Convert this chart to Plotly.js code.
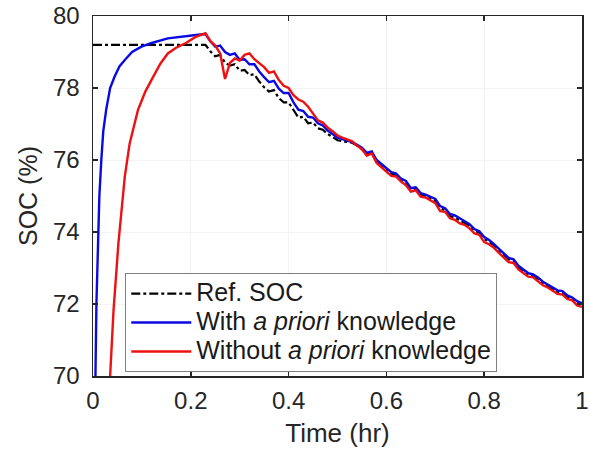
<!DOCTYPE html>
<html>
<head>
<meta charset="utf-8">
<script src="https://cdn.plot.ly/plotly-3.0.1.min.js"></script>
<style>html,body{margin:0;padding:0;background:#fff;}#chart{width:590px;height:454px;}</style>
</head>
<body>
<div id="chart"></div>
<script>
// ---- data ----
const refStartT = [0.0];
const refStartSOC = [79.2];

const blueStartT = [0.003, 0.005, 0.007, 0.010, 0.013, 0.017, 0.021, 0.027, 0.035, 0.044, 0.054, 0.065, 0.080, 0.099, 0.120, 0.153, 0.190, 0.215];
const blueStartSOC = [69.0, 70.0, 72.0, 73.7, 75.0, 76.0, 76.8, 77.4, 78.0, 78.31, 78.6, 78.78, 79.0, 79.15, 79.25, 79.38, 79.45, 79.48];

const redStartT = [0.033, 0.035, 0.042, 0.052, 0.065, 0.075, 0.092, 0.107, 0.123, 0.138, 0.153, 0.170, 0.190, 0.210];
const redStartSOC = [69.3, 70.0, 71.83, 73.69, 75.54, 76.46, 77.39, 77.9, 78.31, 78.68, 78.96, 79.12, 79.25, 79.42];

const tDec = [0.23,0.24,0.25,0.26,0.27,0.28,0.29,0.30,0.31,0.32,0.33,0.34,0.35,0.36,0.37,0.38,0.39,0.40,0.41,0.42,0.43,0.44,0.45,0.46,0.47,0.48,0.49,0.50,0.51,0.52,0.53,0.54,0.55,0.56,0.57,0.58,0.59,0.60,0.61,0.62,0.63,0.64,0.65,0.66,0.67,0.68,0.69,0.70,0.71,0.72,0.73,0.74,0.75,0.76,0.77,0.78,0.79,0.80,0.81,0.82,0.83,0.84,0.85,0.86,0.87,0.88,0.89,0.90,0.91,0.92,0.93,0.94,0.95,0.96,0.97,0.98,0.99,1.00];

const refDecSOC = [79.20,79.02,78.88,78.92,78.70,78.62,78.66,78.48,78.50,78.36,78.38,78.18,78.02,77.90,77.94,77.72,77.60,77.60,77.38,77.18,77.20,77.02,77.04,76.88,76.84,76.72,76.64,76.55,76.52,76.50,76.48,76.40,76.30,76.16,76.20,75.96,75.84,75.74,75.62,75.58,75.44,75.38,75.18,75.20,75.04,75.00,74.94,74.86,74.66,74.60,74.44,74.40,74.32,74.26,74.18,74.04,73.98,73.80,73.74,73.62,73.50,73.38,73.24,73.20,73.02,72.92,72.82,72.78,72.70,72.58,72.50,72.44,72.34,72.32,72.20,72.14,72.06,72.00];

const blueDecSOC = [79.50,79.30,79.15,79.18,79.00,78.92,78.96,78.78,78.80,78.66,78.66,78.46,78.30,78.16,78.20,77.98,77.86,77.86,77.60,77.40,77.36,77.20,77.18,77.02,76.96,76.82,76.72,76.62,76.58,76.54,76.50,76.42,76.34,76.20,76.24,76.00,75.88,75.78,75.66,75.62,75.48,75.42,75.22,75.24,75.08,75.04,74.98,74.92,74.72,74.66,74.50,74.46,74.38,74.30,74.22,74.08,74.02,73.86,73.78,73.66,73.54,73.42,73.28,73.24,73.06,72.96,72.86,72.82,72.74,72.62,72.54,72.48,72.38,72.36,72.24,72.18,72.08,72.02];

const redDecSOC = [79.52,79.30,79.18,78.96,78.25,78.70,78.82,78.76,78.92,78.96,78.80,78.70,78.58,78.42,78.46,78.22,78.06,78.00,77.80,77.68,77.62,77.48,77.30,77.10,77.04,76.90,76.80,76.68,76.62,76.56,76.52,76.40,76.30,76.12,76.18,75.92,75.80,75.70,75.56,75.54,75.40,75.30,75.12,75.16,74.98,74.96,74.88,74.80,74.58,74.56,74.38,74.34,74.24,74.20,74.10,73.96,73.92,73.72,73.66,73.56,73.42,73.30,73.16,73.14,72.96,72.86,72.76,72.74,72.64,72.52,72.46,72.38,72.28,72.26,72.14,72.10,71.96,71.92];

const xTickVals = [0, 0.2, 0.4, 0.6, 0.8, 1];
const xTickText = ['0', '0.2', '0.4', '0.6', '0.8', '1'];
const yTickVals = [70, 72, 74, 76, 78, 80];
const yTickText = ['70', '72', '74', '76', '78', '80'];

const seriesNames = ['Ref. SOC', 'With <i>a priori</i> knowledge', 'Without <i>a priori</i> knowledge'];
const big = s => '<span style="font-size:25px">' + s + '</span>';

// ---- traces ----
const traces = [
  {x: refStartT.concat(tDec), y: refStartSOC.concat(refDecSOC), name: big(seriesNames[0]), mode: 'lines',
   line: {color: '#000000', width: 2.2, dash: 'dashdot'}},
  {x: blueStartT.concat(tDec), y: blueStartSOC.concat(blueDecSOC), name: big(seriesNames[1]), mode: 'lines',
   line: {color: '#0a0ae0', width: 2.4}},
  {x: redStartT.concat(tDec), y: redStartSOC.concat(redDecSOC), name: big(seriesNames[2]), mode: 'lines',
   line: {color: '#ee1111', width: 2.4}}
];

const fontFam = '"Liberation Sans", Arial, sans-serif';
const layout = {
  width: 590, height: 454,
  margin: {l: 93, r: 8, t: 16, b: 78},
  paper_bgcolor: '#ffffff', plot_bgcolor: '#ffffff',
  font: {family: fontFam, size: 21, color: '#262626'},
  showlegend: true,
  legend: {x: 0.066, y: 0.286, xanchor: 'left', yanchor: 'top',
    bgcolor: '#ffffff', bordercolor: '#808080', borderwidth: 1,
    font: {family: fontFam, size: 20, color: '#1a1a1a'}, itemwidth: 60, tracegroupgap: 0},
  xaxis: {range: [0, 1], tickvals: xTickVals, ticktext: xTickText,
    ticks: 'inside', ticklen: 5, tickwidth: 1.5, tickcolor: '#262626',
    showline: true, linecolor: '#262626', linewidth: 1.5, mirror: 'ticks',
    showgrid: true, gridcolor: '#f3f3f3', gridwidth: 1, zeroline: false,
    tickfont: {size: 24}, ticklabelstandoff: 3,
    title: {text: 'Time (hr)', font: {size: 26}, standoff: 10}},
  yaxis: {range: [70, 80], tickvals: yTickVals, ticktext: yTickText,
    ticks: 'inside', ticklen: 5, tickwidth: 1.5, tickcolor: '#262626',
    showline: true, linecolor: '#262626', linewidth: 1.5, mirror: 'ticks',
    showgrid: true, gridcolor: '#f3f3f3', gridwidth: 1, zeroline: false,
    tickfont: {size: 24}, ticklabelstandoff: 7,
    title: {text: 'SOC (%)', font: {size: 25}, standoff: 8}}
};

Plotly.newPlot('chart', traces, layout, {displayModeBar: false, staticPlot: true});
</script>
</body>
</html>
